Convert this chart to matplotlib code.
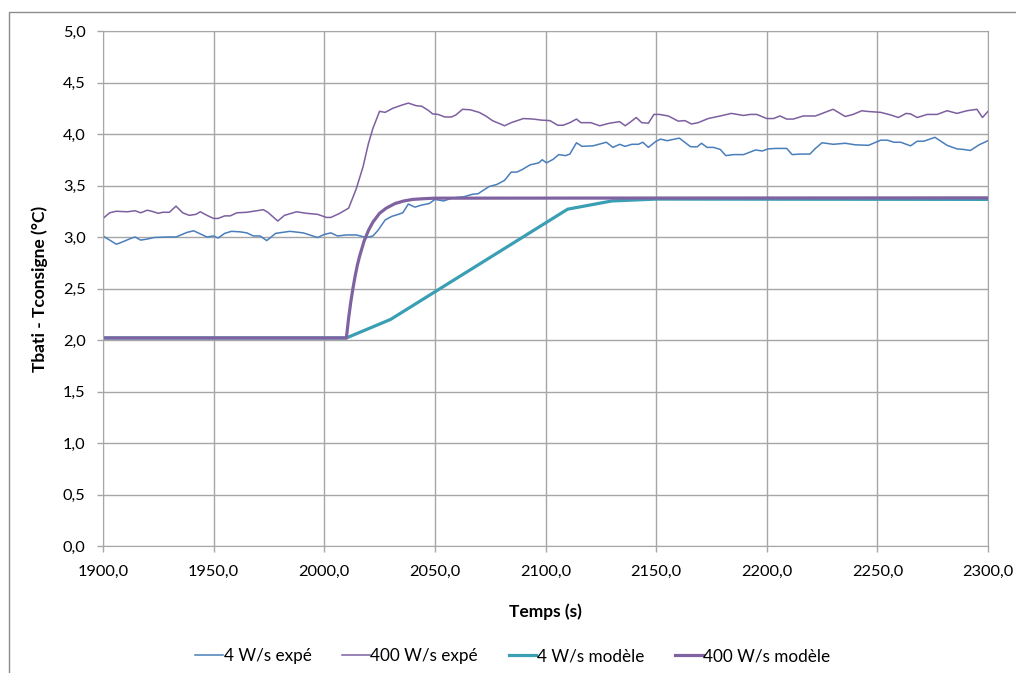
import matplotlib.pyplot as plt
from matplotlib.patches import Rectangle
from matplotlib.ticker import FuncFormatter, MultipleLocator

plt.rcParams['font.family'] = ['Lato', 'DejaVu Sans']

# 4 W/s expé (temps, écart)
t_4_expe = [1900, 1906, 1908, 1913, 1914.5, 1917, 1920, 1923, 1929, 1933, 1938, 1941, 1944,
            1947, 1950, 1952, 1955, 1958, 1962, 1965, 1968, 1971, 1974, 1978, 1984.5, 1990.5,
            1997, 2000, 2003, 2006, 2010, 2014.5, 2019, 2022, 2024.5, 2027.5, 2030.5, 2033.5,
            2035.5, 2038, 2041, 2044, 2047.5, 2050, 2054, 2058, 2063, 2067, 2069.5, 2072,
            2074.5, 2078, 2081.5, 2084.5, 2087, 2089.5, 2093, 2097, 2098.5, 2100.5, 2103.5,
            2106, 2109, 2111, 2114, 2116.5, 2121.5, 2127.5, 2130.5, 2133.5, 2136, 2139, 2142,
            2144, 2146.5, 2150, 2152, 2155, 2160.5, 2165.5, 2168.5, 2170.5, 2173, 2176, 2179,
            2181.5, 2185, 2189.5, 2195, 2198, 2200.5, 2204, 2209, 2211.5, 2215, 2219.5, 2222,
            2225, 2230, 2235.5, 2240, 2246, 2251.5, 2254.5, 2257.5, 2260.5, 2265, 2268, 2271,
            2276, 2281.5, 2286, 2289, 2292, 2296, 2300]
v_4_expe = [3.01, 2.93, 2.945, 2.99, 3.00, 2.97, 2.98, 2.995, 3.00, 3.00, 3.045, 3.06, 3.03,
            3.00, 3.01, 2.99, 3.035, 3.055, 3.05, 3.04, 3.01, 3.01, 2.965, 3.035, 3.055, 3.04,
            2.995, 3.025, 3.04, 3.01, 3.02, 3.02, 2.995, 3.01, 3.07, 3.165, 3.20, 3.22,
            3.235, 3.32, 3.29, 3.31, 3.325, 3.365, 3.35, 3.38, 3.39, 3.415, 3.42, 3.455,
            3.49, 3.51, 3.55, 3.63, 3.63, 3.655, 3.70, 3.72, 3.75, 3.72, 3.755,
            3.80, 3.79, 3.805, 3.915, 3.88, 3.885, 3.92, 3.87, 3.90, 3.88, 3.90, 3.90,
            3.92, 3.87, 3.93, 3.95, 3.935, 3.96, 3.877, 3.875, 3.91, 3.87, 3.87, 3.85,
            3.79, 3.80, 3.80, 3.845, 3.835, 3.855, 3.86, 3.86, 3.80, 3.805, 3.805, 3.86,
            3.915, 3.90, 3.91, 3.895, 3.89, 3.94, 3.94, 3.92, 3.92, 3.885, 3.93, 3.93,
            3.968, 3.89, 3.855, 3.85, 3.84, 3.895, 3.935]

# 400 W/s expé
t_400_expe = [1900, 1903, 1906, 1911, 1914.5, 1917, 1920, 1922, 1925, 1927, 1930, 1933, 1936,
              1939, 1942, 1944, 1947, 1950, 1952, 1955, 1957.5, 1960.5, 1965, 1969.5, 1972.5,
              1974.5, 1979, 1982, 1987.5, 1992, 1997, 2001, 2003, 2007, 2011, 2012.5, 2014.5,
              2017.5, 2020, 2022, 2025, 2027.5, 2031, 2035, 2038, 2041.5, 2044, 2047, 2049,
              2051.5, 2054.5, 2057.5, 2059.5, 2062.5, 2066, 2070, 2073, 2076, 2081.5, 2084.5,
              2090, 2094.5, 2098, 2102, 2105.5, 2108, 2111, 2114, 2116, 2120.5, 2124.5, 2129,
              2133.5, 2136, 2138, 2141, 2143.5, 2146.5, 2149, 2151.5, 2155.5, 2160, 2163,
              2166, 2169, 2173.5, 2179, 2184, 2189.5, 2192.5, 2195.5, 2200, 2203, 2206, 2209,
              2212, 2216.5, 2222, 2230, 2235.5, 2239, 2243, 2245, 2251.5, 2256, 2259.5, 2263,
              2265, 2268, 2272.5, 2277, 2281.5, 2286, 2290.5, 2295, 2297.5, 2300]
v_400_expe = [3.18, 3.235, 3.25, 3.245, 3.255, 3.235, 3.26, 3.25, 3.23, 3.24, 3.24, 3.30, 3.235,
              3.21, 3.22, 3.245, 3.21, 3.18, 3.18, 3.205, 3.205, 3.235, 3.24, 3.255, 3.265,
              3.24, 3.155, 3.21, 3.245, 3.23, 3.22, 3.19, 3.19, 3.23, 3.28, 3.36, 3.47,
              3.68, 3.91, 4.055, 4.22, 4.21, 4.25, 4.28, 4.30, 4.275, 4.27, 4.23, 4.195,
              4.19, 4.165, 4.165, 4.185, 4.24, 4.235, 4.21, 4.175, 4.13, 4.08, 4.11,
              4.15, 4.145, 4.135, 4.13, 4.085, 4.085, 4.11, 4.145, 4.11, 4.11, 4.08, 4.105,
              4.12, 4.08, 4.11, 4.16, 4.11, 4.105, 4.19, 4.19, 4.175, 4.125, 4.13,
              4.097, 4.11, 4.15, 4.175, 4.20, 4.18, 4.19, 4.19, 4.15, 4.15, 4.175, 4.145,
              4.145, 4.175, 4.175, 4.24, 4.17, 4.19, 4.226, 4.22, 4.21, 4.185, 4.16, 4.20,
              4.195, 4.16, 4.19, 4.19, 4.226, 4.20, 4.226, 4.24, 4.16, 4.22]

# 4 W/s modèle
t_4_mod = [1900, 2010, 2030, 2110, 2130, 2150, 2300]
v_4_mod = [2.02, 2.02, 2.20, 3.27, 3.35, 3.368, 3.365]

# 400 W/s modèle
t_400_mod = [1900, 2010, 2011, 2012, 2013, 2014, 2015, 2016, 2018, 2020, 2022, 2025, 2028,
             2032, 2036, 2040, 2045, 2050, 2300]
v_400_mod = [2.02, 2.02, 2.21, 2.37, 2.505, 2.625, 2.73, 2.815, 2.96, 3.065, 3.145, 3.23, 3.28,
             3.325, 3.35, 3.365, 3.372, 3.377, 3.38]

fig = plt.figure(figsize=(10.16, 6.73), dpi=100)
ax = fig.add_axes([103/1016, 1 - 546/673, 885/1016, 515/673])

ax.plot(t_4_expe, v_4_expe, color='#4a7ebb', lw=1.1, label='4 W/s expé')
ax.plot(t_400_expe, v_400_expe, color='#7d5fa0', lw=1.1, label='400 W/s expé')
ax.plot(t_4_mod, v_4_mod, color='#3a9fb4', lw=2.3, label='4 W/s modèle')
ax.plot(t_400_mod, v_400_mod, color='#7f63a1', lw=2.3, label='400 W/s modèle')

ax.set_xlim(1900, 2300)
ax.set_ylim(0, 5)
ax.xaxis.set_major_locator(MultipleLocator(50))
ax.yaxis.set_major_locator(MultipleLocator(0.5))
fmt = FuncFormatter(lambda v, p: f"{v:.1f}".replace('.', ','))
ax.xaxis.set_major_formatter(fmt)
ax.yaxis.set_major_formatter(fmt)
ax.grid(True, color='#a6a6a6', lw=1.0)
ax.set_axisbelow(True)
for s in ax.spines.values():
    s.set_color('#a6a6a6')
ax.tick_params(colors='#a6a6a6', labelcolor='black', labelsize=11.8, length=4.5, width=1.0)
ax.tick_params(axis='x', pad=9)
ax.tick_params(axis='y', pad=8)

ax.set_xlabel('Temps (s)', fontsize=12.5, fontweight='bold', va='center')
ax.xaxis.set_label_coords(0.5, -66/515)
ax.set_ylabel('Tbati - Tconsigne (°C)', fontsize=12.5, fontweight='bold', va='center')
ax.yaxis.set_label_coords(-63/885, 0.5)

fig.legend(loc='center', bbox_to_anchor=(513/1016, 1 - 656/673), ncol=4, frameon=False,
           fontsize=12.3, handlelength=1.6, handletextpad=0.05, columnspacing=1.8)

# cadre extérieur du graphique
fig.patches.append(Rectangle((9/1016, -0.2), 1.5, 0.2 + 1 - 12/673, transform=fig.transFigure,
                             fill=False, edgecolor='#8c8c8c', lw=1.0))

fig.savefig('out.png', dpi=100)
